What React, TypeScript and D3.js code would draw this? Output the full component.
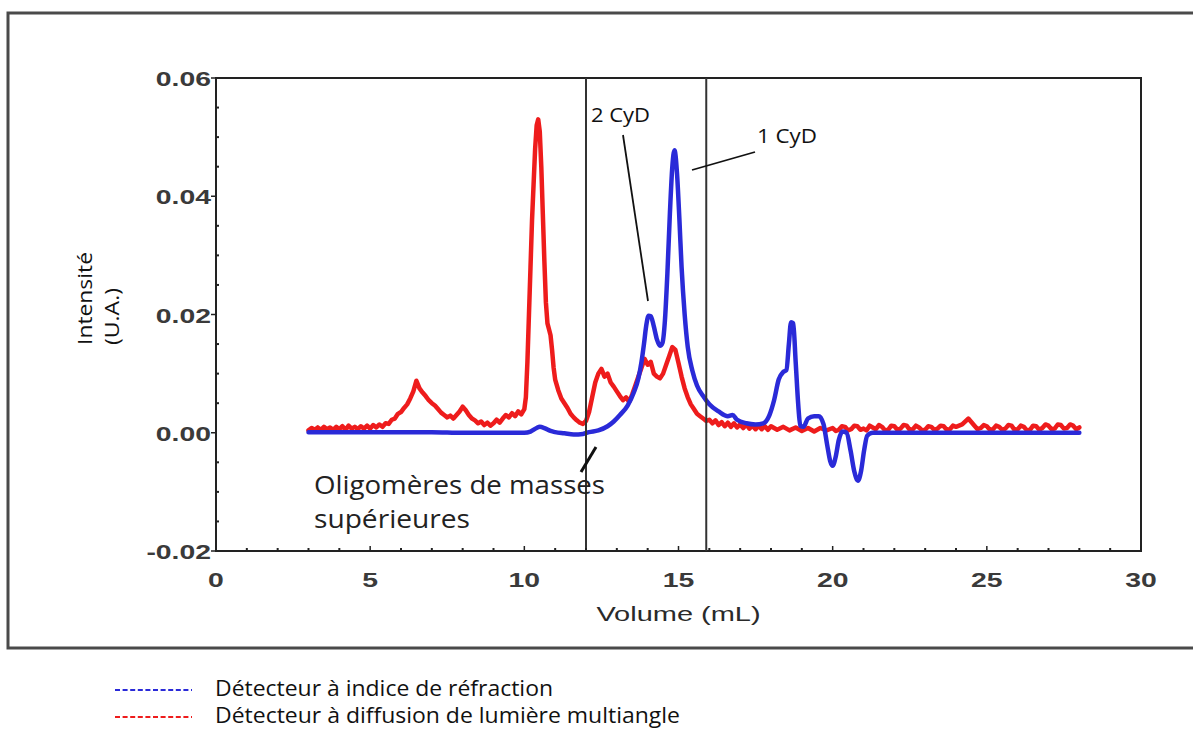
import React from "react";
import * as d3 from "d3";

// ---- Data (volume mL, intensity U.A.) ----
const xTicks = [0, 5, 10, 15, 20, 25, 30];
const yTicks = [-0.02, 0.0, 0.02, 0.04, 0.06];
const yTickLabels = ["-0.02", "0.00", "0.02", "0.04", "0.06"];
const markerLines = [12.0, 15.9];

const refractionSeries: [number, number][] = [
  [3.0, 0.0001], [4.0, 0.0001], [5.0, 0.0001], [6.0, 0.0001], [7.0, 0.0001], [8.0, 0.0],
  [9.0, 0.0], [10.0, 0.0], [10.2, 0.0002], [10.4, 0.0008], [10.5, 0.001], [10.65, 0.0008],
  [10.85, 0.0003], [11.0, 0.0001], [11.3, -0.0001], [11.6, -0.0003], [11.9, -0.0002],
  [12.1, 0.0001], [12.4, 0.0004], [12.7, 0.0011], [12.9, 0.0019], [13.1, 0.003],
  [13.35, 0.0046], [13.55, 0.0068], [13.7, 0.0092], [13.8, 0.012], [13.88, 0.015],
  [13.95, 0.018], [14.03, 0.0198], [14.1, 0.0197], [14.2, 0.018], [14.3, 0.0158],
  [14.4, 0.0147], [14.48, 0.0152], [14.56, 0.019], [14.64, 0.027], [14.72, 0.037],
  [14.8, 0.045], [14.87, 0.0478], [14.95, 0.044], [15.03, 0.036], [15.1, 0.028],
  [15.2, 0.02], [15.3, 0.0145], [15.45, 0.0105], [15.6, 0.008], [15.8, 0.0062],
  [16.0, 0.0048], [16.3, 0.0036], [16.6, 0.0028], [16.75, 0.003], [16.9, 0.0022],
  [17.2, 0.0016], [17.5, 0.0014], [17.75, 0.0016], [17.95, 0.003], [18.1, 0.0055],
  [18.25, 0.009], [18.4, 0.0103], [18.5, 0.0106], [18.58, 0.015], [18.65, 0.0187],
  [18.72, 0.0185], [18.8, 0.012], [18.88, 0.005], [18.95, 0.0012], [19.05, 0.001],
  [19.2, 0.0024], [19.4, 0.0028], [19.55, 0.0028], [19.7, 0.0015], [19.82, -0.002],
  [19.92, -0.0048], [20.0, -0.0056], [20.1, -0.004], [20.2, -0.0012], [20.32, 0.0002],
  [20.45, 0.0], [20.58, -0.003], [20.7, -0.0065], [20.82, -0.0081], [20.92, -0.0065],
  [21.02, -0.003], [21.12, -0.0005], [21.3, 0.0], [22.0, 0.0], [24.0, 0.0], [26.0, 0.0],
  [28.0, 0.0],
];

const scatteringSeries: [number, number][] = [
  [3.0, 0.0004], [3.1, 0.0008], [3.2, 0.0005], [3.3, 0.0009], [3.4, 0.0005], [3.5, 0.001],
  [3.6, 0.0006], [3.7, 0.0009], [3.8, 0.0005], [3.9, 0.001], [4.0, 0.0006], [4.1, 0.0011],
  [4.2, 0.0005], [4.3, 0.0012], [4.4, 0.0007], [4.5, 0.001], [4.6, 0.0006], [4.7, 0.0011],
  [4.8, 0.0007], [4.9, 0.0012], [5.0, 0.0007], [5.1, 0.0013], [5.2, 0.0009], [5.3, 0.0014],
  [5.4, 0.001], [5.5, 0.0016], [5.6, 0.0015], [5.7, 0.0022], [5.8, 0.0024], [5.9, 0.0032],
  [6.0, 0.0035], [6.1, 0.0042], [6.2, 0.0048],
  [6.3, 0.0058], [6.4, 0.007], [6.5, 0.0088], [6.6, 0.0075], [6.7, 0.0068], [6.8, 0.0062],
  [6.9, 0.0055], [7.0, 0.005], [7.1, 0.0046], [7.2, 0.004], [7.3, 0.0034], [7.4, 0.003],
  [7.5, 0.0026], [7.6, 0.0029], [7.7, 0.0024], [7.8, 0.003], [7.9, 0.0036], [8.0, 0.0044],
  [8.1, 0.0038], [8.2, 0.003], [8.3, 0.0024], [8.4, 0.0021], [8.5, 0.0016], [8.6, 0.0019],
  [8.7, 0.0013], [8.8, 0.0017], [8.9, 0.0012], [9.0, 0.0016], [9.1, 0.0022], [9.2, 0.0017],
  [9.3, 0.0024], [9.4, 0.003], [9.5, 0.0026], [9.6, 0.0033], [9.7, 0.0028], [9.8, 0.0036],
  [9.9, 0.0031], [10.0, 0.004], [10.05, 0.006], [10.1, 0.012], [10.15, 0.02], [10.2, 0.028],
  [10.25, 0.036], [10.3, 0.042], [10.35, 0.048], [10.4, 0.052], [10.45, 0.053], [10.5, 0.051],
  [10.55, 0.045], [10.6, 0.037], [10.65, 0.029], [10.7, 0.022], [10.75, 0.0185], [10.8, 0.0175],
  [10.85, 0.0165], [10.9, 0.014], [10.95, 0.011], [11.0, 0.009], [11.1, 0.0072], [11.2, 0.0058],
  [11.3, 0.005], [11.4, 0.0042], [11.5, 0.0032], [11.6, 0.0026], [11.7, 0.0021], [11.8, 0.0017],
  [11.9, 0.0015], [12.0, 0.002], [12.1, 0.0035], [12.2, 0.006], [12.3, 0.0085], [12.4, 0.01],
  [12.5, 0.0108], [12.6, 0.0095], [12.7, 0.01], [12.8, 0.0085], [12.9, 0.0078], [13.0, 0.007],
  [13.1, 0.0062], [13.2, 0.0055], [13.3, 0.006], [13.4, 0.0052], [13.5, 0.0065], [13.6, 0.008],
  [13.7, 0.0095], [13.8, 0.011], [13.9, 0.0125], [14.0, 0.0115], [14.1, 0.012], [14.2, 0.01],
  [14.3, 0.0095], [14.4, 0.0092], [14.5, 0.01], [14.6, 0.0115], [14.7, 0.013], [14.8, 0.0145],
  [14.9, 0.014], [15.0, 0.0118], [15.1, 0.0095], [15.2, 0.0075], [15.3, 0.006], [15.4, 0.0048],
  [15.5, 0.004], [15.6, 0.0032], [15.7, 0.0028], [15.8, 0.0024], [15.9, 0.002], [16.0, 0.0022],
  [16.1, 0.0016], [16.2, 0.0021], [16.3, 0.0013], [16.4, 0.0018], [16.5, 0.0011], [16.6, 0.0017],
  [16.7, 0.001], [16.8, 0.0016], [16.9, 0.0009], [17.0, 0.0014], [17.1, 0.0008], [17.2, 0.0014],
  [17.3, 0.0007], [17.4, 0.0012], [17.5, 0.0006], [17.6, 0.0012], [17.7, 0.0006], [17.8, 0.0011],
  [17.9, 0.0005], [18.0, 0.0011], [18.2, 0.0005], [18.4, 0.001],
  [18.6, 0.0004], [18.8, 0.0009], [19.0, 0.0003], [19.2, 0.0008], [19.4, 0.0002], [19.6, 0.0008],
  [19.8, 0.0004], [20.0, 0.0008], [20.1, 0.0003], [20.2, 0.0005], [20.3, 0.0011], [20.4, 0.001],
  [20.5, 0.0004], [20.6, 0.0006], [20.7, 0.0012], [20.8, 0.0011], [20.9, 0.0005],
  [21.0, 0.0007], [21.1, 0.0004], [21.2, 0.0012], [21.3, 0.0009], [21.4, 0.0006], [21.5, 0.0013],
  [21.6, 0.001], [21.7, 0.0004], [21.8, 0.0005], [21.9, 0.0012], [22.0, 0.0011],
  [22.1, 0.0005], [22.2, 0.0007], [22.3, 0.0013], [22.4, 0.0012], [22.5, 0.0005], [22.6, 0.0006],
  [22.7, 0.0012], [22.8, 0.0009], [22.9, 0.0004], [23.0, 0.0005], [23.1, 0.0011], [23.2, 0.001],
  [23.3, 0.0005], [23.4, 0.0007], [23.5, 0.0012], [23.6, 0.0011], [23.7, 0.0005], [23.8, 0.0006],
  [23.9, 0.0012], [24.0, 0.001], [24.2, 0.0014], [24.4, 0.0024],
  [24.6, 0.0012], [24.7, 0.0006], [24.8, 0.0008], [24.9, 0.0013], [25.0, 0.0011], [25.1, 0.0005],
  [25.2, 0.0006], [25.3, 0.0012], [25.4, 0.001], [25.5, 0.0005], [25.6, 0.0007], [25.7, 0.0013],
  [25.8, 0.0012], [25.9, 0.0005], [26.0, 0.0006], [26.1, 0.0012], [26.2, 0.001], [26.3, 0.0004],
  [26.4, 0.0005], [26.5, 0.0012], [26.6, 0.0011], [26.7, 0.0005], [26.8, 0.0008], [26.9, 0.0014],
  [27.0, 0.0012], [27.1, 0.0006], [27.2, 0.0007], [27.3, 0.0014], [27.4, 0.0013], [27.5, 0.0007],
  [27.6, 0.0008], [27.7, 0.0014], [27.8, 0.0012], [27.9, 0.0006], [28.0, 0.0009],
];

const legendItems = [
  { label: "Détecteur à indice de réfraction", color: "#2a2ad8" },
  { label: "Détecteur à diffusion de lumière multiangle", color: "#ee1c1c" },
];

const W = 1193;
const H = 729;
const plot = { left: 216, right: 1141, top: 78, bottom: 551 };

export default function App() {
  const x = d3.scaleLinear().domain([0, 30]).range([plot.left, plot.right]);
  const y = d3.scaleLinear().domain([-0.02, 0.06]).range([plot.bottom, plot.top]);

  const smoothLine = d3
    .line<[number, number]>()
    .x((d) => x(d[0]))
    .y((d) => y(d[1]))
    .curve(d3.curveMonotoneX);
  const jaggedLine = d3
    .line<[number, number]>()
    .x((d) => x(d[0]))
    .y((d) => y(d[1]))
    .curve(d3.curveLinear);

  const xMinor = d3.range(1, 30).filter((v) => v % 5 !== 0);
  const yMinor = d3.range(-0.015, 0.06, 0.005).filter((v) => Math.abs(Math.round(v / 0.005)) % 4 !== 0);

  const tickFont = "'Liberation Sans', Arial, sans-serif";
  const noteFont = "'Open Sans', 'Noto Sans', sans-serif";

  return (
    <svg width={W} height={H} style={{ position: "absolute", left: 0, top: 0, background: "#fff" }}>
      <rect x={0} y={0} width={W} height={H} fill="#fff" />
      {/* outer frame */}
      <rect x={8} y={13} width={1200} height={635} fill="none" stroke="#4a4a4a" strokeWidth={3} />

      {/* series */}
      <path d={jaggedLine(scatteringSeries) || ""} fill="none" stroke={legendItems[1].color} strokeWidth={4.5} strokeLinejoin="round" strokeLinecap="round" />
      <path d={smoothLine(refractionSeries) || ""} fill="none" stroke={legendItems[0].color} strokeWidth={4.5} strokeLinejoin="round" strokeLinecap="round" />

      {/* plot box */}
      <rect x={plot.left} y={plot.top} width={plot.right - plot.left} height={plot.bottom - plot.top} fill="none" stroke="#222" strokeWidth={2} />

      {/* marker vertical lines */}
      {markerLines.map((v) => (
        <line key={v} x1={x(v)} x2={x(v)} y1={plot.top} y2={plot.bottom} stroke="#333" strokeWidth={2} />
      ))}

      {/* y ticks */}
      {yTicks.map((v, i) => (
        <g key={"yt" + v}>
          <line x1={plot.left - 5} x2={plot.left} y1={y(v)} y2={y(v)} stroke="#222" strokeWidth={1.5} />
          <text
            transform={`translate(${plot.left - 5},${y(v) + 8}) scale(1.35,1)`}
            textAnchor="end"
            fontFamily={tickFont}
            fontWeight="bold"
            fontSize={21}
            fill="#3a3a3a"
          >
            {yTickLabels[i]}
          </text>
        </g>
      ))}
      {yMinor.map((v) => (
        <line key={"ym" + v} x1={plot.left} x2={plot.left + 3} y1={y(v)} y2={y(v)} stroke="#222" strokeWidth={2} />
      ))}

      {/* x ticks */}
      {xTicks.map((v) => (
        <g key={"xt" + v}>
          <line x1={x(v)} x2={x(v)} y1={plot.bottom} y2={plot.bottom - 5} stroke="#222" strokeWidth={1.5} />
          <text
            transform={`translate(${x(v)},${plot.bottom + 36}) scale(1.35,1)`}
            textAnchor="middle"
            fontFamily={tickFont}
            fontWeight="bold"
            fontSize={21}
            fill="#3a3a3a"
          >
            {v}
          </text>
        </g>
      ))}
      {xMinor.map((v) => (
        <line key={"xm" + v} x1={x(v)} x2={x(v)} y1={plot.bottom} y2={plot.bottom - 3} stroke="#222" strokeWidth={2} />
      ))}

      {/* x axis title */}
      <text
        transform={`translate(${x(15)},${621}) scale(1.38,1)`}
        textAnchor="middle"
        fontFamily={tickFont}
        fontSize={21}
        fill="#2a2a2a"
      >
        Volume (mL)
      </text>

      {/* y axis title */}
      <text transform="translate(92,345) rotate(-90)" fontFamily={noteFont} fontSize={20} fill="#111" textLength={93} lengthAdjust="spacingAndGlyphs">
        Intensité
      </text>
      <text transform="translate(119,345) rotate(-90)" fontFamily={noteFont} fontSize={20} fill="#111" textLength={57} lengthAdjust="spacingAndGlyphs">
        (U.A.)
      </text>

      {/* annotations */}
      <text x={591} y={122} fontFamily={noteFont} fontSize={20} fill="#111" textLength={59} lengthAdjust="spacingAndGlyphs">
        2 CyD
      </text>
      <line x1={623} y1={135} x2={648} y2={301} stroke="#111" strokeWidth={1.8} />
      <text x={757} y={143} fontFamily={noteFont} fontSize={20} fill="#111" textLength={60} lengthAdjust="spacingAndGlyphs">
        1 CyD
      </text>
      <line x1={755} y1={152} x2={692} y2={170} stroke="#111" strokeWidth={1.8} />

      <line x1={581} y1={472} x2={596} y2={447} stroke="#111" strokeWidth={3} />
      <text x={314} y={494} fontFamily={noteFont} fontSize={25} fill="#222" textLength={291} lengthAdjust="spacingAndGlyphs">
        Oligomères de masses
      </text>
      <text x={314} y={528} fontFamily={noteFont} fontSize={25} fill="#222" textLength={156} lengthAdjust="spacingAndGlyphs">
        supérieures
      </text>

      {/* legend */}
      {legendItems.map((it, i) => (
        <g key={it.label}>
          <line x1={115} x2={192} y1={690 + i * 27} y2={690 + i * 27} stroke={it.color} strokeWidth={2} strokeDasharray="5 2.6" />
          <text
            x={215}
            y={696 + i * 27}
            fontFamily={noteFont}
            fontSize={22}
            fill="#111"
            textLength={i === 0 ? 338 : 465}
            lengthAdjust="spacingAndGlyphs"
          >
            {it.label}
          </text>
        </g>
      ))}
    </svg>
  );
}
